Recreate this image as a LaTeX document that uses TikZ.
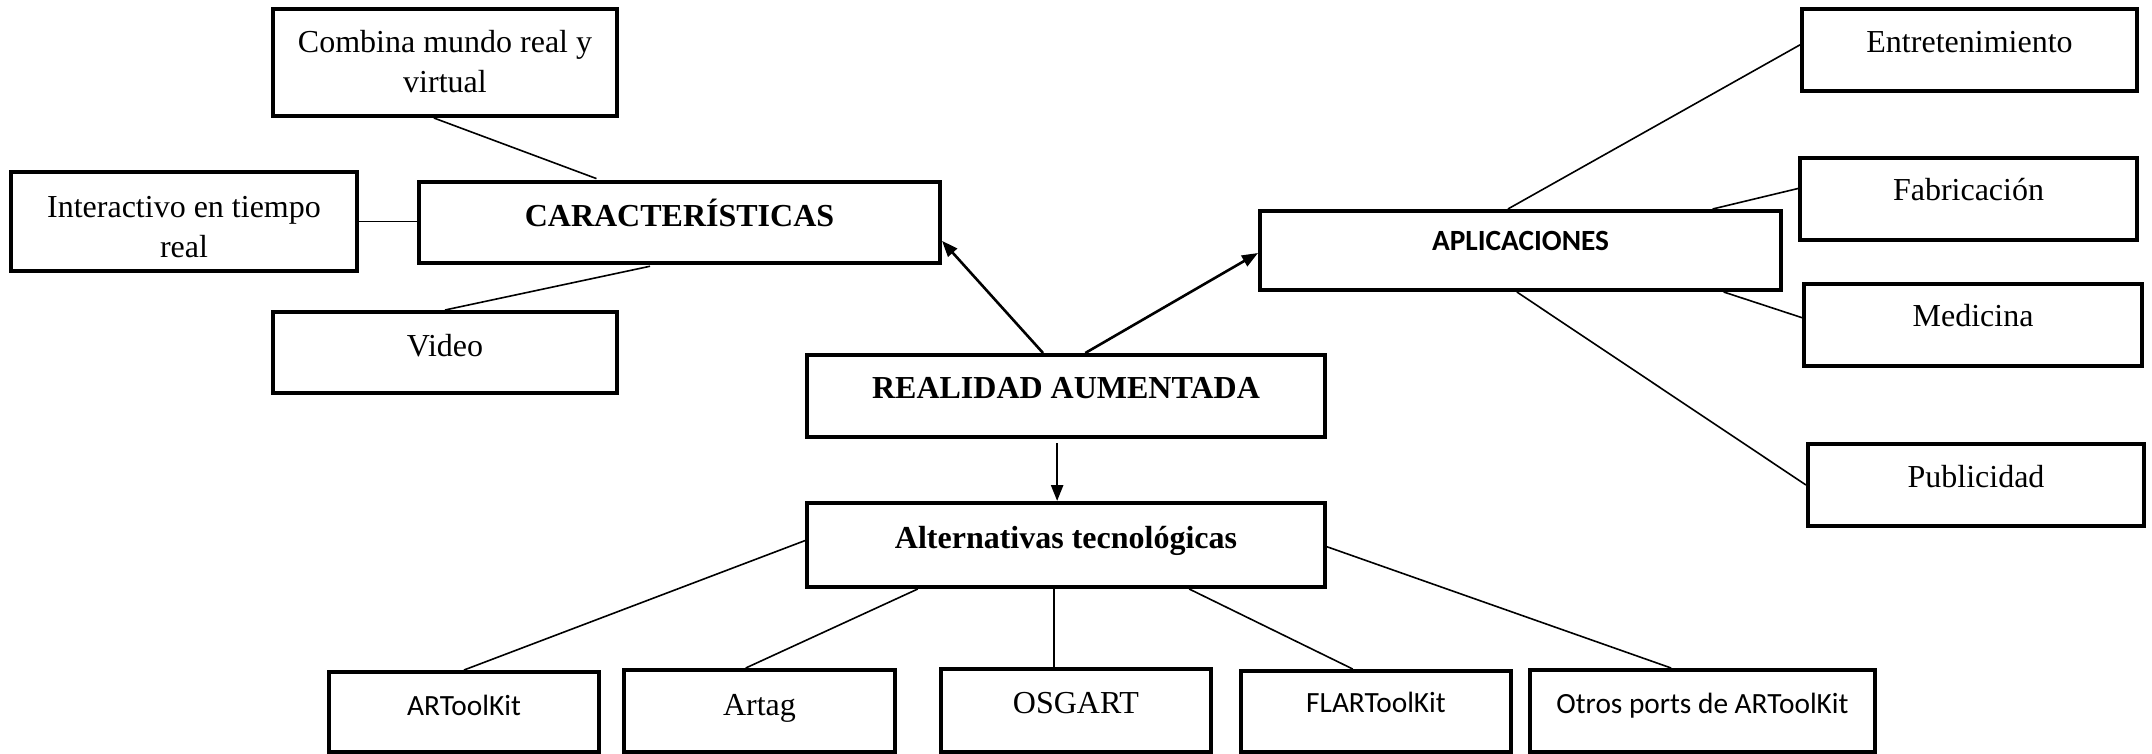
\documentclass[tikz,border=0pt]{standalone}
\usepackage{fontspec}
\setmainfont{Liberation Serif}
\newfontfamily\calibri{Carlito}
\usetikzlibrary{calc,arrows.meta}
\begin{document}
\begin{tikzpicture}[x=0.5pt,y=-0.5pt,
  bx/.style 2 args={draw,line width=2pt,inner sep=0pt,minimum width=#1,minimum height=#2},
  tms/.style={font=\fontsize{16}{20}\selectfont,anchor=base,align=center,inner sep=0pt},
  tmsb/.style={font=\bfseries\fontsize{16}{20}\selectfont,anchor=base,align=center,inner sep=0pt},
  cal/.style={font=\calibri\fontsize{14.67}{18}\selectfont,anchor=base,align=center,inner sep=0pt},
  calb/.style={font=\calibri\bfseries\fontsize{14.67}{18}\selectfont,anchor=base,align=center,inner sep=0pt},
  con/.style={line width=0.8pt},
  arr/.style={line width=1.3pt,-{Triangle[length=8pt,width=6pt]}}]
\fill[white] (0,0) rectangle (2152,754);
\useasboundingbox (0,0) rectangle (2152,754);
% boxes
\node[bx={172pt}{53.5pt}] (combina) at (445,62.5) {};
\node[bx={173pt}{49.5pt}] (interact) at (184,221.5) {};
\node[bx={260.5pt}{40.5pt}] (caract) at (679.5,222.5) {};
\node[bx={172pt}{40.5pt}] (video) at (445,352.5) {};
\node[bx={259pt}{41pt}] (ra) at (1066,396) {};
\node[bx={259pt}{42pt}] (alt) at (1066,545) {};
\node[bx={260.5pt}{39.5pt}] (aplic) at (1520.5,250.5) {};
\node[bx={167.5pt}{41pt}] (entret) at (1969.5,50) {};
\node[bx={168.5pt}{41pt}] (fabric) at (1968.5,199) {};
\node[bx={169pt}{41pt}] (medic) at (1973,325) {};
\node[bx={168pt}{41pt}] (public) at (1976,485) {};
\node[bx={135pt}{40pt}] (artoolkit) at (464,712) {};
\node[bx={135.5pt}{41pt}] (artag) at (759.5,711) {};
\node[bx={135pt}{41.5pt}] (osgart) at (1076,710.5) {};
\node[bx={135pt}{40.5pt}] (flar) at (1376,711.5) {};
\node[bx={172.5pt}{41pt}] (otros) at (1702.5,711) {};
% texts
\node[tms] (combina-t) at (445,93) {Combina mundo real y\\virtual};
\node[tms] (interact-t) at (184,257) {Interactivo en tiempo\\real};
\node[tmsb] (caract-t) at (679.5,227) {CARACTERÍSTICAS};
\node[tms] (video-t) at (445,356) {Video};
\node[tmsb] (ra-t) at (1066,398) {REALIDAD AUMENTADA};
\node[tmsb] (alt-t) at (1066,548) {Alternativas tecnológicas};
\node[calb] (aplic-t) at (1520.5,251) {APLICACIONES};
\node[tms] (entret-t) at (1969.5,53) {Entretenimiento};
\node[tms] (fabric-t) at (1968.5,201) {Fabricación};
\node[tms] (medic-t) at (1973,327) {Medicina};
\node[tms] (public-t) at (1976,487) {Publicidad};
\node[cal] (artoolkit-t) at (464,715) {ARToolKit};
\node[tms] (artag-t) at (759.5,715) {Artag};
\node[tms] (osgart-t) at (1076,713) {OSGART};
\node[cal] (flar-t) at (1376,712) {FLARToolKit};
\node[cal] (otros-t) at (1702.5,713) {Otros ports de ARToolKit};
% connectors
\draw[con,shorten >=2pt] ($(combina.south west)!0.468!(combina.south east)$) -- ($(caract.north west)!0.349!(caract.north east)$);
\draw[con] (interact.east) -- (interact.east -| caract.west);
\draw[con,shorten <=3pt] ($(caract.south west)!0.455!(caract.south east)$) -- (video.north);
\draw[arr] ($(ra.north west)!0.456!(ra.north east)$) -- ($(caract.north east)!0.716!(caract.south east)$);
\draw[arr] ($(ra.north west)!0.537!(ra.north east)$) -- ($(aplic.north west)!0.53!(aplic.south west)$);
\draw[arr,shorten <=2pt] ($(ra.south west)!0.483!(ra.south east)$) -- ($(alt.north west)!0.483!(alt.north east)$);
\draw[con] ($(aplic.north west)!0.476!(aplic.north east)$) -- ($(entret.north west)!0.44!(entret.south west)$);
\draw[con] ($(aplic.north west)!0.866!(aplic.north east)$) -- ($(fabric.north west)!0.378!(fabric.south west)$);
\draw[con] ($(aplic.south west)!0.887!(aplic.south east)$) -- ($(medic.north west)!0.415!(medic.south west)$);
\draw[con] ($(aplic.south west)!0.493!(aplic.south east)$) -- (public.west);
\draw[con] ($(alt.north west)!0.45!(alt.south west)$) -- (artoolkit.north);
\draw[con] ($(alt.south west)!0.216!(alt.south east)$) -- ($(artag.north west)!0.45!(artag.north east)$);
\draw[con] ($(alt.south west)!0.477!(alt.south east)$) coordinate (o1) -- (o1 |- osgart.north);
\draw[con] ($(alt.south west)!0.736!(alt.south east)$) -- ($(flar.north west)!0.415!(flar.north east)$);
\draw[con] ($(alt.north east)!0.52!(alt.south east)$) -- ($(otros.north west)!0.41!(otros.north east)$);
\end{tikzpicture}
\end{document}
